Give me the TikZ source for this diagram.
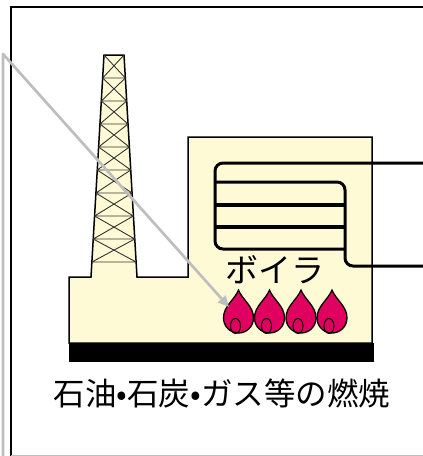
\documentclass[tikz,border=0pt]{standalone}
\usepackage{fontspec}
\newfontfamily\jpfont{Noto Sans CJK JP}
\usetikzlibrary{arrows.meta}
\definecolor{cream}{RGB}{255,250,214}
\definecolor{flame}{RGB}{224,0,96}
\definecolor{guide}{RGB}{190,190,190}

\begin{document}
\begin{tikzpicture}[x=1pt,y=-1pt,
  wall/.style={draw=black,line width=1.5pt,fill=cream,line join=miter},
  lattice/.style={draw=black!80,line width=0.9pt},
  tube/.style={draw=black,line width=3pt,rounded corners=8pt},
  flameshape/.style={draw=black,line width=1.3pt,fill=flame},
  label/.style={font=\jpfont,text=black,inner sep=0pt},
  guideline/.style={draw=guide,line width=2.7pt,line join=round,-{Triangle[length=11pt,width=10pt]}}]

\useasboundingbox (0,0) rectangle (423,456);
\fill[white] (0,0) rectangle (423,456);

% frame
\draw[line width=1.3pt] (11,457) -- (11,7) -- (424,7);
\draw[black!25,line width=1pt] (11,455) -- (424,455);

% plant building with chimney
\draw[wall] (69,343) -- (69,277) -- (91,277) -- (104,55) -- (124,55) -- (137,277)
  -- (188,277) -- (188,137) -- (372,137) -- (372,343) -- cycle;

% chimney lattice
\foreach \i in {0,...,8} {
  \pgfmathsetmacro\ya{55+23*\i}
  \pgfmathsetmacro\yb{55+23*(\i+1)}
  \pgfmathsetmacro\la{104-13*(\ya-55)/222}
  \pgfmathsetmacro\lb{104-13*(\yb-55)/222}
  \pgfmathsetmacro\ra{124+13*(\ya-55)/222}
  \pgfmathsetmacro\rb{124+13*(\yb-55)/222}
  \draw[lattice] (\la,\ya) -- (\rb,\yb) (\ra,\ya) -- (\lb,\yb) (\lb,\yb) -- (\rb,\yb);
}

% boiler tubes
\draw[tube] (424,163) -| (215,249) -- (345,249);
\draw[tube] (215,182) -| (345,266) -- (424,266);
\draw[black,line width=4pt] (215,205) -- (345,205) (215,227) -- (345,227);

% foundation
\fill[black] (69,343) rectangle (374,362);

% burner flames
\foreach \cx/\n in {238.5/1,269.5/2,301/3,332/4} {
  \draw[flameshape] (\cx,290) .. controls (\cx+4,300) and (\cx+15,306) .. (\cx+15,318)
    arc[start angle=0,end angle=180,radius=15]
    .. controls (\cx-15,306) and (\cx-4,300) .. cycle;
  \draw[black,line width=1pt] (\cx-3,326) ellipse[x radius=5,y radius=7.5];
}

% labels
\node[label,font=\jpfont\fontsize{33}{33}\selectfont] (boiler) at (274.5,270) {ボイラ};
\node[label,font=\jpfont\fontsize{31.5}{31.5}\selectfont] (caption) at (222,393) {石油•石炭•ガス等の燃焼};

% pointer to the burners
\coordinate (src) at (3,457);
\coordinate (bend) at (3,54);
\coordinate (burner) at (229,307);
\draw[guideline] (src) -- (bend) -- (burner);
\end{tikzpicture}
\end{document}
